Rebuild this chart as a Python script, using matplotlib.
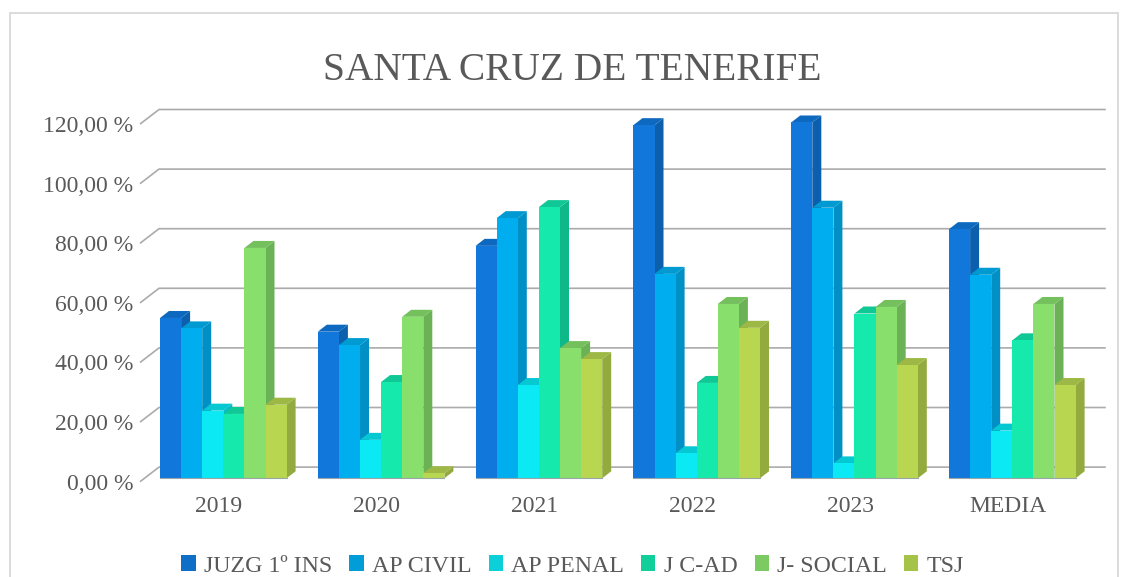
"""Barras 3D de Santa Cruz de Tenerife, dibujadas a mano sobre ejes 2D."""
import matplotlib

matplotlib.use("Agg")
import matplotlib.pyplot as plt
from matplotlib.patches import Patch, Polygon, Rectangle

categories = ["2019", "2020", "2021", "2022", "2023", "MEDIA"]
series_names = ["JUZG 1º INS", "AP CIVIL", "AP PENAL", "J C-AD", "J- SOCIAL", "TSJ"]
juzg = [53.8, 49.2, 78.0, 118.5, 119.4, 83.6]
ap_civil = [50.3, 44.7, 87.3, 68.6, 90.8, 68.3]
ap_penal = [22.7, 12.9, 31.3, 8.4, 5.0, 16.0]
j_cad = [21.6, 32.3, 91.0, 32.0, 55.3, 46.3]
j_social = [77.3, 54.2, 43.7, 58.5, 57.5, 58.5]
tsj = [24.7, 1.7, 40.0, 50.5, 38.0, 31.3]
series_values = [juzg, ap_civil, ap_penal, j_cad, j_social, tsj]

y_ticks = [0, 20, 40, 60, 80, 100, 120]
y_tick_labels = ["0,00 %", "20,00 %", "40,00 %", "60,00 %", "80,00 %", "100,00 %", "120,00 %"]

legend_colors = ["#0F6FC6", "#009DD9", "#0BD0D9", "#10CF9B", "#7CCA62", "#A5C249"]
front_colors = ["#1277DB", "#00AEEF", "#0BE9F4", "#16E9AC", "#88DF6C", "#B8D64F"]
side_colors = ["#0B5FAD", "#0090C5", "#06BCC6", "#0EB889", "#6BB256", "#93AB3E"]
top_colors = ["#0D68C0", "#009AD2", "#06C8D2", "#10C895", "#74C05C", "#9DB844"]

W, H = 1130, 577
TEXT = "#595959"
GRID = "#ABABAB"
FRAME = "#D9D9D9"
# posicion del plano frontal en pixeles
LEFT, RIGHT = 140, 1086.8
Y0, Y120 = 481.7, 124.1


def main():
    plt.rcParams["font.family"] = ["Liberation Serif", "DejaVu Serif"]
    fig = plt.figure(figsize=(W / 100, H / 100), dpi=100)
    fig.add_artist(Rectangle((9.5 / W, -0.1), 1108 / W, 1.1 - 12.5 / H, transform=fig.transFigure,
                             fill=False, edgecolor=FRAME, linewidth=1.3))

    ax = fig.add_axes([LEFT / W, 1 - Y0 / H, (RIGHT - LEFT) / W, (Y0 - Y120) / H])
    ax.set_xlim(-0.5, len(categories) - 0.5)
    ax.set_ylim(0, 120)
    for spine in ax.spines.values():
        spine.set_visible(False)

    px_x = len(categories) / (RIGHT - LEFT)
    px_y = 120 / (Y0 - Y120)

    # lineas de fondo: pared trasera y tramo oblicuo de la izquierda
    back_dx, back_dy = 19 * px_x, 14.6 * px_y
    for v in y_ticks:
        ax.plot([-0.5, -0.5 + back_dx, len(categories) - 0.5 + back_dx],
                [v, v + back_dy, v + back_dy],
                color=GRID, linewidth=1.2, clip_on=False, zorder=1, solid_capstyle="butt")

    bar_w = 21.1 * px_x
    shift_x, shift_y = 4.4 * px_x, 3.4 * px_y
    depth_x, depth_y = 9 * px_x, 7 * px_y
    z = 2
    for i in range(len(categories)):
        for j, values in enumerate(series_values):
            v = values[i]
            x0 = i + (j - 3) * bar_w + shift_x
            x1 = x0 + bar_w
            y0 = shift_y
            y1 = shift_y + v
            ax.add_patch(Polygon([(x1, y0), (x1 + depth_x, y0 + depth_y), (x1 + depth_x, y1 + depth_y), (x1, y1)],
                                 facecolor=side_colors[j], edgecolor="none", clip_on=False, zorder=z))
            ax.add_patch(Polygon([(x0, y1), (x0 + depth_x, y1 + depth_y), (x1 + depth_x, y1 + depth_y), (x1, y1)],
                                 facecolor=top_colors[j], edgecolor="none", clip_on=False, zorder=z))
            ax.bar(x0, v, width=bar_w, bottom=y0, align="edge", color=front_colors[j],
                   edgecolor="none", clip_on=False, zorder=z + 0.5)
            z += 1
        # borde gris fino en la base del grupo
        ax.plot([i - 3 * bar_w + shift_x, i + 3 * bar_w + shift_x], [shift_y, shift_y],
                color="#9AA5A8", linewidth=0.8, clip_on=False, zorder=z)
        z += 1

    ax.set_xticks(range(len(categories)))
    ax.set_xticklabels(categories)
    ax.set_yticks(y_ticks)
    ax.set_yticklabels(y_tick_labels)
    ax.tick_params(axis="x", length=0, pad=10, labelsize=17, labelcolor=TEXT)
    ax.tick_params(axis="y", length=0, pad=5, labelsize=17, labelcolor=TEXT)

    fig.text(572.5 / W, 1 - 70.5 / H, "SANTA CRUZ DE TENERIFE", ha="center", va="center",
             fontsize=28.4, color=TEXT)

    handles = [Patch(facecolor=c, edgecolor="none") for c in legend_colors]
    fig.legend(handles, series_names, ncol=6, loc="center", bbox_to_anchor=(572.5 / W, 1 - 566 / H),
               frameon=False, fontsize=17.2, labelcolor=TEXT, handlelength=0.6, handleheight=0.6,
               handletextpad=0.34, columnspacing=0.72, borderpad=0, borderaxespad=0)

    fig.savefig("out.png", dpi=100)


if __name__ == "__main__":
    main()
